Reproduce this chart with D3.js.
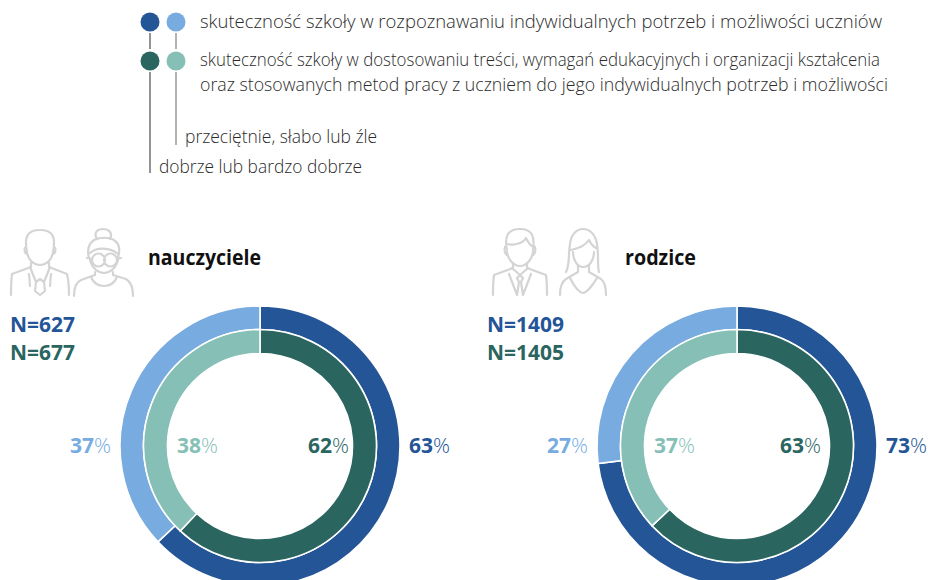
<!DOCTYPE html>
<html><head><meta charset="utf-8">
<script src="https://cdn.jsdelivr.net/npm/d3@7"></script>
<style>html,body{margin:0;background:#fff}svg{display:block}text{font-family:"Open Sans","Noto Sans",sans-serif}</style>
</head><body><svg id="c" width="928" height="580"></svg>
<script>
const groups = ["nauczyciele","rodzice"];
const nOuter = ["N=627","N=1409"];
const nInner = ["N=677","N=1405"];
const outerGood = [63,73];
const innerGood = [62,63];
const legendLines = [
 "skuteczność szkoły w rozpoznawaniu indywidualnych potrzeb i możliwości uczniów",
 "skuteczność szkoły w dostosowaniu treści, wymagań edukacyjnych i organizacji kształcenia",
 "oraz stosowanych metod pracy z uczniem do jego indywidualnych potrzeb i możliwości"];
const legendBottom = ["przeciętnie, słabo lub źle","dobrze lub bardzo dobrze"];
const colors = {outerGood:"#235597",outerRest:"#78abdf",innerGood:"#2a655f",innerRest:"#85bfb6"};

const svg = d3.select("#c");
const textCol="#2b2b2b", lineCol="#666", iconCol="#d4d4d4";

// legend
[[150,33,49,1.4],[176,33,49,1],[150,72,173,1.4],[176,72,145,1]].forEach(([x,a,b,w])=>
 svg.append("line").attr("x1",x).attr("x2",x).attr("y1",a).attr("y2",b).attr("stroke",lineCol).attr("stroke-width",w));
[[150,22,colors.outerGood],[176,22,colors.outerRest],[150,61,colors.innerGood],[176,61,colors.innerRest]].forEach(([x,y,c])=>
 svg.append("circle").attr("cx",x).attr("cy",y).attr("r",9.5).attr("fill",c));
const lt=(s,x,y,len)=>svg.append("text").attr("x",x).attr("y",y).attr("font-size",17.4).attr("font-weight",300).attr("fill",textCol).attr("textLength",len).attr("lengthAdjust","spacingAndGlyphs").text(s);
lt(legendLines[0],200,28,682);
lt(legendLines[1],200,66,680);
lt(legendLines[2],200,91,688);
lt(legendBottom[0],185,143,192);
lt(legendBottom[1],159,173,203);

// donuts
const cxs=[260,737], cy=446;
const radii={outer:[116.5,140],inner:[92.5,116.5]};
const pie=d3.pie().sort(null).value(d=>d);
function ring(g,val,[r0,r1],cGood,cRest){
  g.selectAll(null).data(pie([val,100-val])).join("path")
   .attr("d",d3.arc().innerRadius(r0).outerRadius(r1))
   .attr("fill",(d,i)=>i?cRest:cGood).attr("stroke","#fff").attr("stroke-width",1.6);
}
function pct(g,x,v,c){
  const t=g.append("text").attr("x",x).attr("y",7).attr("font-size",20.5).attr("fill",c).attr("textLength",41).attr("lengthAdjust","spacingAndGlyphs");
  t.append("tspan").attr("font-weight",700).text(v);
  t.append("tspan").attr("font-weight",300).text("%");
}
const innerGoodX=[48,43];
groups.forEach((name,i)=>{
  const g=svg.append("g").attr("transform",`translate(${cxs[i]},${cy})`);
  ring(g,outerGood[i],radii.outer,colors.outerGood,colors.outerRest);
  ring(g,innerGood[i],radii.inner,colors.innerGood,colors.innerRest);
  pct(g,149,outerGood[i],colors.outerGood);
  pct(g,-190,100-outerGood[i],colors.outerRest);
  pct(g,innerGoodX[i],innerGood[i],colors.innerGood);
  pct(g,-83,100-innerGood[i],colors.innerRest);
});
const hx=[148,625], hlen=[113,71];
groups.forEach((name,i)=>svg.append("text").attr("x",hx[i]).attr("y",265).attr("font-size",20.5).attr("font-weight",700).attr("fill","#111").attr("textLength",hlen[i]).attr("lengthAdjust","spacingAndGlyphs").text(name));
const nx=[10,487], nlen=[65,77];
groups.forEach((name,i)=>{
  svg.append("text").attr("x",nx[i]).attr("y",332).attr("font-size",20.5).attr("font-weight",700).attr("fill",colors.outerGood).attr("textLength",nlen[i]).attr("lengthAdjust","spacingAndGlyphs").text(nOuter[i]);
  svg.append("text").attr("x",nx[i]).attr("y",360).attr("font-size",20.5).attr("font-weight",700).attr("fill",colors.innerGood).attr("textLength",nlen[i]).attr("lengthAdjust","spacingAndGlyphs").text(nInner[i]);
});

// icons
const icon=(x,y,paths)=>{const g=svg.append("g").attr("transform",`translate(${x},${y})`).attr("fill","none").attr("stroke",iconCol).attr("stroke-width",2.2).attr("stroke-linejoin","round").attr("stroke-linecap","round");
 paths.forEach(d=>g.append("path").attr("d",d));};
// teacher man
icon(0,220,[
 "M27 32 C24 17 27 10 40 10 C53 10 56 17 53 32",
 "M26 27 C24 27 24 33 27 34 M54 27 C56 27 56 33 53 34",
 "M27 32 C28 40 34 45 40 45 C46 45 52 40 53 32",
 "M31 42 V47 L12 54 Q11 62 11 75 M49 42 V47 L67 54 Q69 62 69 75",
 "M30 47 L36 62 L40 59 L44 62 L50 47 M36 62 L35 71 L40 75 L45 71 L44 62 M29 54 L30 66 M51 54 L50 66"]);
// teacher woman
icon(0,220,[
 "M97 19 C93 12 98 9 103 9 C109 9 113 13 110 19",
 "M94 20 C100 17 110 17 114 20 C120 24 120 30 118 38 M94 20 C88 24 87 30 89 38",
 "M90 33 C96 27 110 27 118 34",
 "M90 40 C92 48 98 53 104 53 C110 53 116 48 118 40",
 "M92 40 a6.5 6.5 0 1 0 13 0 a6.5 6.5 0 1 0 -13 0 M104 40 a6.5 6.5 0 1 0 13 0 a6.5 6.5 0 1 0 -13 0 M87 38 L92 39 M117 39 L121 38",
 "M95 52 V55 L81 60 Q74 63 74 76 M113 52 V55 L126 59 Q133 63 133 76",
 "M91 57 C96 69 112 69 117 57"]);
// parent man
icon(480,220,[
 "M27 30 C24 16 28 9 40 9 C52 9 55 16 53 30",
 "M26 26 C24 27 24 33 27 35 M54 26 C56 27 56 33 53 35",
 "M28 24 C36 26 44 22 46 18 C48 22 50 25 52 26",
 "M27 32 C28 40 34 46 40 46 C46 46 52 40 53 32",
 "M33 43 V48 L14 55 Q13 62 13 75 M47 43 V48 L66 55 Q67 62 67 75",
 "M32 48 L40 55 L48 48 M29 54 L37 75 M51 54 L43 75 M37 58 L40 55 L43 58 L41 62 L43 75 M37 58 L39 62 L37 75"]);
// parent woman
icon(480,220,[
 "M90 24 C92 4 114 4 117 24 C119 36 117 44 119 52 M90 24 C88 36 90 44 86 52",
 "M91 30 C99 28 105 26 109 20 C111 24 114 27 116 28",
 "M93 32 C93 41 98 47 103 47 C109 47 114 41 114 32",
 "M98 45 V52 L86 59 Q80 63 80 75 M109 45 V52 L121 59 Q126 63 126 75",
 "M90 58 C94 66 98 72 103 73 C108 72 112 66 117 58"]);
</script></body></html>
